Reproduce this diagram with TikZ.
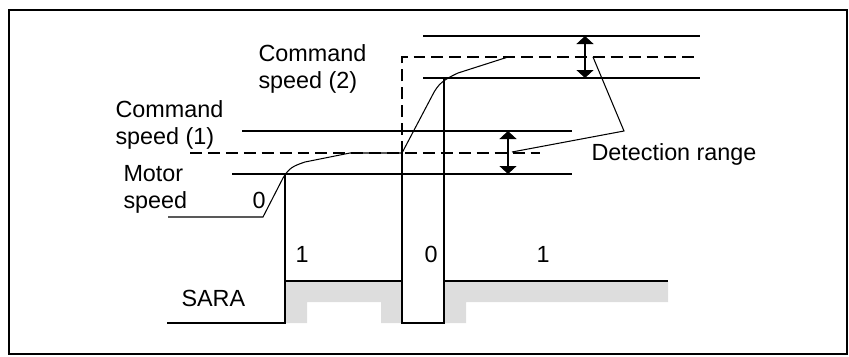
\documentclass[tikz,border=0pt]{standalone}
\usepackage{fontspec}
\setmainfont{Liberation Sans}
\usetikzlibrary{arrows.meta}
\definecolor{sarashade}{HTML}{DDDDDD}

\begin{document}
\begin{tikzpicture}[
  x=0.02cm, y=-0.02cm, line width=0.6pt,
  every node/.style={font=\fontsize{13.3}{15.3}\selectfont, inner sep=0pt},
  cmddash/.style={dash pattern=on 6.8pt off 3.4pt},
  rangearrow/.style={{Triangle[width=0.34cm,length=0.16cm]}-{Triangle[width=0.34cm,length=0.16cm]}}
]
\useasboundingbox (0,0) rectangle (849,356);
\draw[line width=1.1pt] (9,10) rectangle (847,354);

% Command speed (2) and its band
\draw (423,36) -- (700,36);
\draw (423,78) -- (700,78);
\draw[cmddash] (402,153) -- (402,57) -- (700,57);

% Command speed (1) and its band
\draw (242,131) -- (572,131);
\draw (232,174) -- (572,174);
\draw[cmddash] (190,153) -- (540,153);

% Motor speed
\draw (168,217) -- (263,217) -- (283,178) .. controls (289,168) and (293,166) .. (305,162)
  -- (350,153) -- (402,153) -- (432,96) .. controls (438,84) and (443,80) .. (458,73) -- (508,57);

% SARA shading
\fill[sarashade] (285,281) -- (402,281) -- (402,323) -- (381,323) -- (381,302)
  -- (307,302) -- (307,323) -- (285,323) -- cycle;
\fill[sarashade] (444,281) -- (668,281) -- (668,302) -- (466,302) -- (466,323)
  -- (444,323) -- cycle;

% SARA signal
\draw (167,323) -- (285,323) -- (285,281) -- (402,281) -- (402,323) -- (444,323)
  -- (444,281) -- (668,281);
\draw (285,281) -- (285,174);
\draw (402,281) -- (402,153);
\draw (444,281) -- (444,78);

% Detection ranges
\coordinate (r2top) at (585,36);
\coordinate (r2bot) at (585,78);
\coordinate (r1top) at (508,131);
\coordinate (r1bot) at (508,174);
\draw[rangearrow] (r2top) -- (r2bot);
\draw[rangearrow] (r1top) -- (r1bot);

% Labels (base = last line)
\node[anchor=base west, align=left] (cmd2) at (258,88.5) {Command\\speed (2)};
\node[anchor=base west, align=left] (cmd1) at (115,144.5) {Command\\speed (1)};
\node[anchor=base west, align=left] (motor) at (123,208) {Motor\\speed};
\node[anchor=base west] (zero) at (252,208) {0};
\node[anchor=base] (sara1a) at (302,262) {1};
\node[anchor=base] (sara0) at (431,262) {0};
\node[anchor=base] (sara1b) at (543,262) {1};
\node[anchor=base west] (sara) at (181,306) {SARA};
\node[anchor=base west] (detect) at (591,160) {Detection range};

% Leader lines
\coordinate (hit2) at (593,57);
\coordinate (apex) at (624,131);
\coordinate (hit1) at (512,152);
\draw (hit2) -- (apex) -- (hit1);
\end{tikzpicture}
\end{document}
